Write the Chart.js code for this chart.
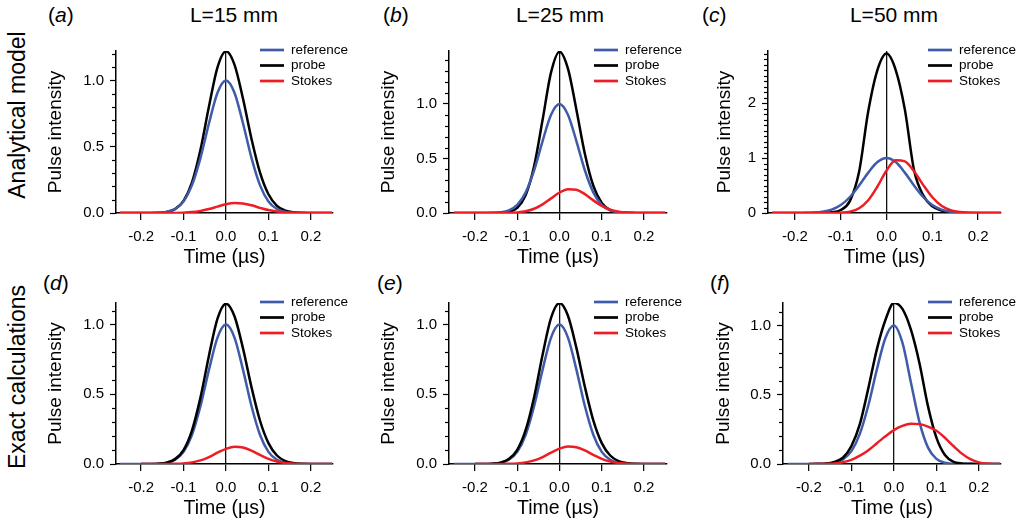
<!DOCTYPE html>
<html>
<head>
<meta charset="utf-8">
<script src="https://cdn.jsdelivr.net/npm/chart.js@4.4.0/dist/chart.umd.min.js"></script>
<style>
body{margin:0;background:#fff;width:1018px;height:527px;position:relative;overflow:hidden;font-family:'Liberation Sans',Arial,Helvetica,sans-serif;color:#000}
canvas{position:absolute}
.txt{position:absolute;white-space:nowrap;line-height:24px}
.letra{font-size:21px}
.titulo{font-size:21px;width:200px;text-align:center}
.fila{font-size:23px;transform:translate(-50%,-50%) rotate(-90deg)}
</style>
</head>
<body>
<div class="txt fila" style="left:17px;top:115px">Analytical model</div>
<div class="txt fila" style="left:17px;top:377px">Exact calculations</div>

<div class="txt letra" style="left:48px;top:3px">(<i>a</i>)</div>
<div class="txt titulo" style="left:134px;top:3px">L=15 mm</div>
<div class="txt letra" style="left:383px;top:3px">(<i>b</i>)</div>
<div class="txt titulo" style="left:460px;top:3px">L=25 mm</div>
<div class="txt letra" style="left:702px;top:3px">(<i>c</i>)</div>
<div class="txt titulo" style="left:794px;top:3px">L=50 mm</div>
<div class="txt letra" style="left:43px;top:271px">(<i>d</i>)</div>
<div class="txt letra" style="left:377px;top:271px">(<i>e</i>)</div>
<div class="txt letra" style="left:710px;top:271px">(<i>f</i>)</div>

<canvas id="panelA" width="319" height="237" style="left:44px;top:36px"></canvas>
<canvas id="panelB" width="320" height="237" style="left:377px;top:36px"></canvas>
<canvas id="panelC" width="305" height="237" style="left:713px;top:36px"></canvas>
<canvas id="panelD" width="319" height="236" style="left:44px;top:288px"></canvas>
<canvas id="panelE" width="320" height="236" style="left:377px;top:288px"></canvas>
<canvas id="panelF" width="306" height="236" style="left:712px;top:288px"></canvas>

<script>
//referencias a los canvas
const $panelA = document.querySelector("#panelA");
const $panelB = document.querySelector("#panelB");
const $panelC = document.querySelector("#panelC");
const $panelD = document.querySelector("#panelD");
const $panelE = document.querySelector("#panelE");
const $panelF = document.querySelector("#panelF");

//eje de tiempo (us), comun a todas las curvas
const tiempo = [-0.25, -0.24, -0.22, -0.2, -0.18, -0.16, -0.14, -0.12, -0.1, -0.08, -0.06, -0.04, -0.02, 0, 0.02, 0.04, 0.06, 0.08, 0.1, 0.12, 0.14, 0.16, 0.18, 0.2, 0.22, 0.24, 0.25];
const etiquetasX = [-0.2, -0.1, 0, 0.1, 0.2];
const nombres = ["reference", "probe", "Stokes"];

//(a) modelo analitico, L=15 mm
const referenciaA = [0, 0, 0, 0, 0.0004, 0.002, 0.008, 0.030, 0.087, 0.210, 0.416, 0.677, 0.907, 1.0, 0.907, 0.677, 0.416, 0.210, 0.087, 0.030, 0.008, 0.002, 0.0004, 0, 0, 0, 0];
const sondaA = [0, 0, 0, 0, 0.0002, 0.0016, 0.0074, 0.029, 0.091, 0.231, 0.478, 0.805, 1.099, 1.22, 1.119, 0.863, 0.560, 0.306, 0.141, 0.054, 0.018, 0.0048, 0.001, 0.0002, 0, 0, 0];
const stokesA = [0, 0, 0, 0, 0, 0, 0.0002, 0.0008, 0.0026, 0.0069, 0.0158, 0.030, 0.048, 0.066, 0.075, 0.071, 0.058, 0.039, 0.022, 0.011, 0.0043, 0.0015, 0.0004, 0, 0, 0, 0];
//(b) L=25 mm
const referenciaB = [0, 0, 0, 0, 0.0002, 0.0013, 0.006, 0.024, 0.074, 0.189, 0.392, 0.660, 0.901, 1.0, 0.901, 0.660, 0.392, 0.189, 0.074, 0.024, 0.006, 0.0013, 0.0002, 0, 0, 0, 0];
const sondaB = [0, 0, 0, 0, 0, 0.0002, 0.0018, 0.011, 0.048, 0.165, 0.431, 0.855, 1.290, 1.48, 1.324, 0.948, 0.544, 0.250, 0.092, 0.027, 0.0064, 0.0012, 0.0001, 0, 0, 0, 0];
const stokesB = [0, 0, 0, 0, 0, 0.0002, 0.0005, 0.0015, 0.0054, 0.016, 0.039, 0.079, 0.134, 0.188, 0.219, 0.214, 0.173, 0.116, 0.065, 0.030, 0.012, 0.0038, 0.001, 0.0002, 0, 0, 0];
//(c) L=50 mm
const referenciaC = [0, 0, 0, 0.0005, 0.0019, 0.0072, 0.023, 0.062, 0.145, 0.291, 0.499, 0.734, 0.926, 1.0, 0.926, 0.734, 0.499, 0.291, 0.145, 0.062, 0.023, 0.0072, 0.0019, 0.0005, 0.0001, 0, 0];
const sondaC = [0, 0, 0, 0, 0, 0.001, 0.003, 0.012, 0.054, 0.22, 0.75, 1.85, 2.6, 2.9, 2.6, 1.88, 0.78, 0.32, 0.12, 0.045, 0.012, 0.003, 0.001, 0, 0, 0, 0];
const stokesC = [0, 0, 0, 0, 0, 0, 0.0001, 0.001, 0.0057, 0.025, 0.087, 0.233, 0.482, 0.773, 0.96, 0.939, 0.760, 0.511, 0.286, 0.133, 0.052, 0.017, 0.0045, 0.001, 0.0002, 0, 0];
//(d) calculo exacto, L=15 mm
const referenciaD = [0, 0, 0, 0, 0.0004, 0.002, 0.008, 0.030, 0.087, 0.210, 0.416, 0.677, 0.907, 1.0, 0.907, 0.677, 0.416, 0.210, 0.087, 0.030, 0.008, 0.002, 0.0004, 0, 0, 0, 0];
const sondaD = [null, null, null, 0.0001, 0.0005, 0.0022, 0.0097, 0.035, 0.100, 0.242, 0.478, 0.779, 1.043, 1.15, 1.060, 0.830, 0.552, 0.312, 0.150, 0.061, 0.021, 0.006, 0.0016, 0.0003, 0, 0, 0];
const stokesD = [null, null, null, 0, 0, 0.0001, 0.0004, 0.0013, 0.0043, 0.0116, 0.026, 0.050, 0.081, 0.109, 0.124, 0.119, 0.096, 0.065, 0.037, 0.018, 0.0072, 0.0024, 0.0007, 0.0002, 0, 0, 0];
//(e) L=25 mm
const referenciaE = [0, 0, 0, 0, 0.0004, 0.002, 0.008, 0.030, 0.087, 0.210, 0.416, 0.677, 0.907, 1.0, 0.907, 0.677, 0.416, 0.210, 0.087, 0.030, 0.008, 0.002, 0.0004, 0, 0, 0, 0];
const sondaE = [null, null, null, 0.0001, 0.0005, 0.0022, 0.0098, 0.035, 0.101, 0.244, 0.481, 0.784, 1.048, 1.155, 1.064, 0.833, 0.554, 0.313, 0.150, 0.061, 0.021, 0.006, 0.0016, 0.0003, 0, 0, 0];
const stokesE = [null, null, null, 0, 0, 0.0001, 0.0004, 0.0013, 0.0044, 0.0117, 0.026, 0.050, 0.082, 0.110, 0.125, 0.120, 0.097, 0.066, 0.037, 0.018, 0.0073, 0.0024, 0.0007, 0.0002, 0, 0, 0];
//(f) L=50 mm
const referenciaF = [0, 0, 0, 0, 0.0005, 0.0023, 0.0096, 0.033, 0.093, 0.219, 0.426, 0.684, 0.910, 1.0, 0.876, 0.589, 0.304, 0.120, 0.0365, 0.0085, 0.0015, 0.0002, 0, 0, 0, 0, 0];
const sondaF = [null, null, null, 0.0002, 0.001, 0.003, 0.015, 0.045, 0.13, 0.29, 0.55, 0.83, 1.04, 1.165, 1.12, 0.97, 0.73, 0.42, 0.19, 0.065, 0.016, 0.004, 0.001, 0.0002, 0, 0, 0];
const stokesF = [null, null, null, 0, 0.0005, 0.001, 0.003, 0.012, 0.03, 0.06, 0.10, 0.15, 0.20, 0.245, 0.275, 0.29, 0.288, 0.27, 0.24, 0.19, 0.13, 0.075, 0.035, 0.012, 0.003, 0.0005, 0];

const colores = ['#3f5ba9', '#000000', '#ee1d25'];
const fuente = "'Liberation Sans', Arial, Helvetica, sans-serif";
Chart.defaults.font.family = fuente;
Chart.defaults.color = '#000';

const esMayor = (v, paso) => Math.abs(v / paso - Math.round(v / paso)) < 1e-6;
const serie = (valores) => tiempo.map((t, i) => ({x: t, y: valores[i]}));

//leyenda dibujada arriba a la derecha del area
const leyenda = {
    id: 'leyenda',
    afterDraw(chart) {
        const {ctx, chartArea} = chart;
        ctx.save();
        ctx.font = "13.5px " + fuente;
        ctx.textBaseline = 'middle';
        chart.data.datasets.forEach((ds, i) => {
            const y = chartArea.top - 1 + i * 15.5;
            ctx.strokeStyle = ds.borderColor;
            ctx.lineWidth = 2.7;
            ctx.beginPath();
            ctx.moveTo(chartArea.right - 73, y);
            ctx.lineTo(chartArea.right - 49, y);
            ctx.stroke();
            ctx.fillStyle = '#000';
            ctx.fillText(ds.label, chartArea.right - 42, y);
        });
        ctx.restore();
    }
};

function crearPanel($canvas, conf) {
    //marcas menores del eje y (mas cortas)
    const menores = {
        id: 'menores',
        afterDraw(chart) {
            const s = chart.scales.y;
            const ctx = chart.ctx;
            ctx.save();
            ctx.strokeStyle = '#000';
            ctx.lineWidth = 1.2;
            s.ticks.forEach(t => {
                if (esMayor(t.value, conf.paso)) return;
                const py = Math.round(s.getPixelForValue(t.value)) + 0.5;
                ctx.beginPath();
                ctx.moveTo(s.right - 4, py);
                ctx.lineTo(s.right, py);
                ctx.stroke();
            });
            ctx.restore();
        }
    };
    const datos = [conf.ref, conf.sonda, conf.stokes];
    return new Chart($canvas, {
        type: 'line',
        data: {
            datasets: datos.map((d, i) => ({
                label: nombres[i],
                data: serie(d),
                borderColor: colores[i],
                borderWidth: 2.5,
                order: conf.orden[i],
                fill: false,
                pointRadius: 0,
                cubicInterpolationMode: 'monotone',
                spanGaps: false,
            })),
        },
        options: {
            responsive: false,
            animation: false,
            layout: {padding: {top: 12, right: conf.derecha, left: 0, bottom: 0}},
            plugins: {legend: {display: false}, tooltip: {enabled: false}},
            scales: {
                x: {
                    type: 'linear',
                    min: conf.xMin,
                    max: conf.xMax,
                    afterBuildTicks: s => { s.ticks = etiquetasX.map(v => ({value: v})); },
                    afterFit: s => { s.height = 60; },
                    grid: {
                        drawOnChartArea: true,
                        color: c => (c.tick && c.tick.value === 0) ? '#111' : 'rgba(0,0,0,0)',
                        lineWidth: 1.3,
                        tickLength: 7,
                        tickColor: '#000',
                        tickWidth: 1.2,
                    },
                    border: {display: true, color: '#000', width: 1.5},
                    ticks: {font: {size: 15}, padding: 8, maxRotation: 0, autoSkip: false, callback: v => v.toFixed(1)},
                    title: {display: true, text: 'Time (µs)', font: {size: 19.5}, padding: {top: 0, bottom: 4}},
                },
                y: {
                    min: 0,
                    max: conf.yMax,
                    afterBuildTicks: s => {
                        const marcas = [];
                        for (let i = 0; i <= Math.floor(conf.yMax * 10 + 1e-9); i++) marcas.push({value: i / 10});
                        s.ticks = marcas;
                    },
                    afterFit: s => { s.width = conf.anchoY; },
                    grid: {
                        drawOnChartArea: false,
                        tickLength: 6,
                        tickWidth: 1.2,
                        tickColor: c => esMayor(c.tick.value, conf.paso) ? '#000' : 'rgba(0,0,0,0)',
                    },
                    border: {display: true, color: '#000', width: 1.5},
                    ticks: {font: {size: 15}, padding: 6, autoSkip: false, callback: v => esMayor(v, conf.paso) ? v.toFixed(conf.dec) : ''},
                    title: {display: true, text: 'Pulse intensity', font: {size: 19}, padding: 0},
                },
            },
        },
        plugins: [menores, leyenda],
    });
}

//fila superior: Stokes encima, luego referencia, sonda debajo
let graficoA = crearPanel($panelA, {ref: referenciaA, sonda: sondaA, stokes: stokesA, xMin: -0.259, xMax: 0.252, yMax: 1.222, paso: 0.5, dec: 1, anchoY: 72, derecha: 30, orden: [1, 2, 0]});
let graficoB = crearPanel($panelB, {ref: referenciaB, sonda: sondaB, stokes: stokesB, xMin: -0.2615, xMax: 0.2544, yMax: 1.486, paso: 0.5, dec: 1, anchoY: 72, derecha: 30, orden: [1, 2, 0]});
let graficoC = crearPanel($panelC, {ref: referenciaC, sonda: sondaC, stokes: stokesC, xMin: -0.259, xMax: 0.25, yMax: 2.946, paso: 1, dec: 0, anchoY: 55, derecha: 17, orden: [1, 2, 0]});
//fila inferior: sonda encima de la referencia
let graficoD = crearPanel($panelD, {ref: referenciaD, sonda: sondaD, stokes: stokesD, xMin: -0.259, xMax: 0.252, yMax: 1.155, paso: 0.5, dec: 1, anchoY: 72, derecha: 30, orden: [2, 1, 0]});
let graficoE = crearPanel($panelE, {ref: referenciaE, sonda: sondaE, stokes: stokesE, xMin: -0.2615, xMax: 0.2544, yMax: 1.155, paso: 0.5, dec: 1, anchoY: 72, derecha: 30, orden: [2, 1, 0]});
let graficoF = crearPanel($panelF, {ref: referenciaF, sonda: sondaF, stokes: stokesF, xMin: -0.261, xMax: 0.252, yMax: 1.163, paso: 0.5, dec: 1, anchoY: 71, derecha: 17, orden: [2, 1, 0]});
</script>
</body>
</html>
